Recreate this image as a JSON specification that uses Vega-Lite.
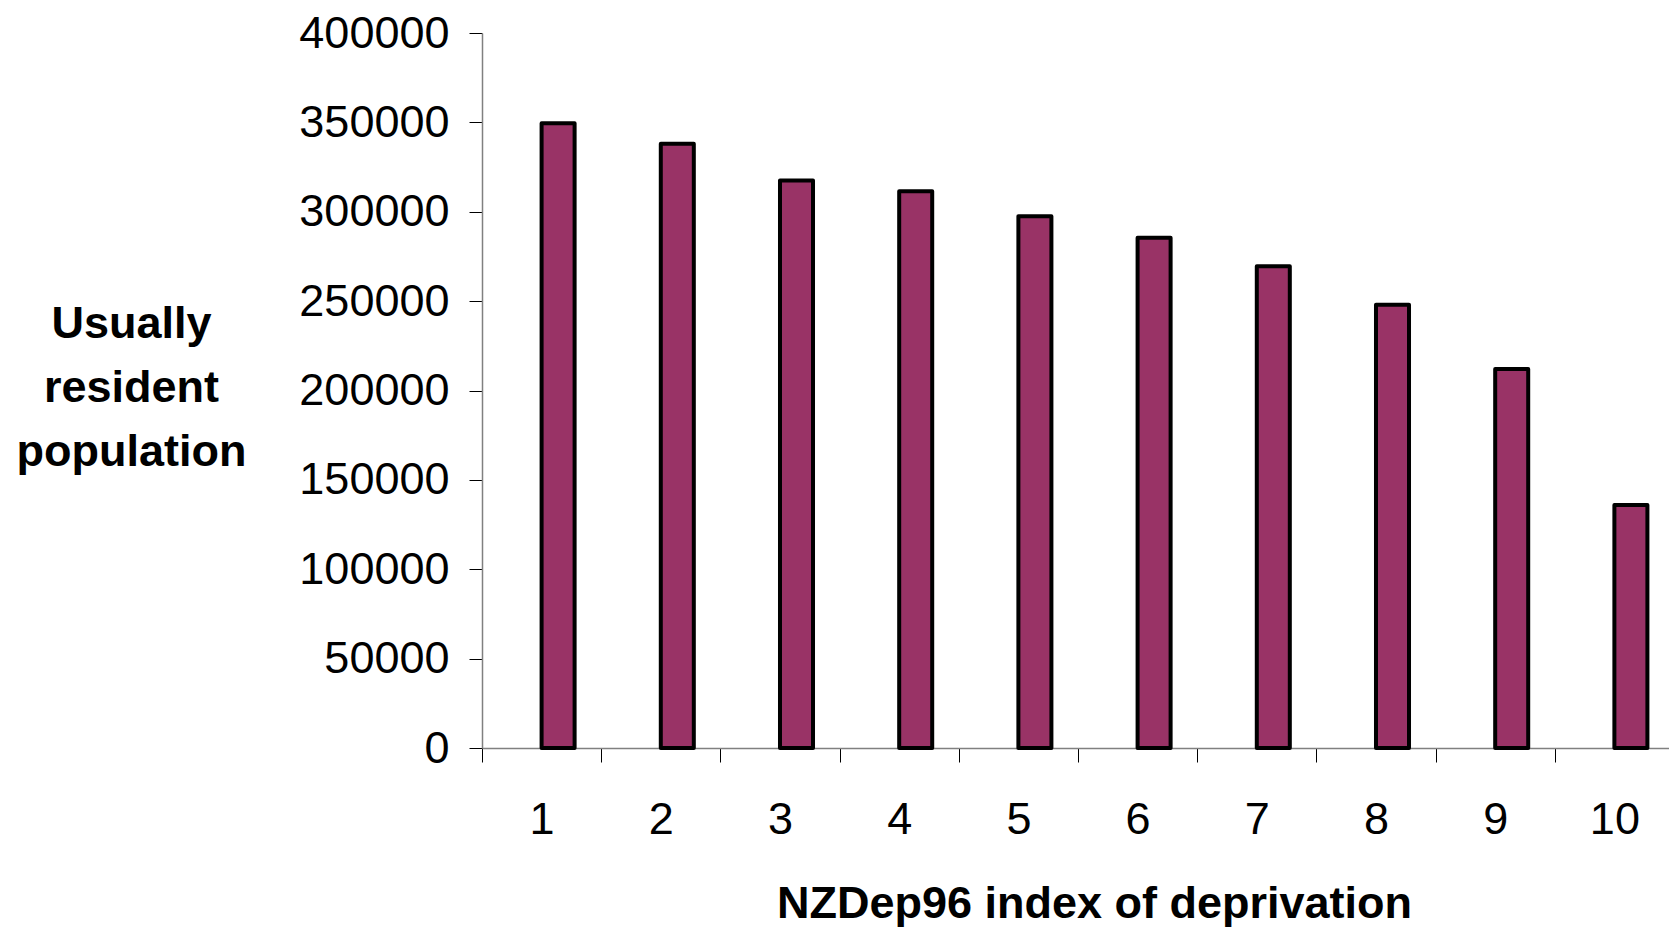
{
  "$schema": "https://vega.github.io/schema/vega-lite/v6.json",
  "autosize": {"type": "none"},
  "width": 1192,
  "height": 715,
  "padding": {"left": 482, "top": 33, "right": 0, "bottom": 181},
  "background": "#ffffff",
  "config": {
    "font": "Liberation Sans",
    "view": {"stroke": null}
  },
  "data": {
    "values": [
      {"decile": "1", "population": 349500},
      {"decile": "2", "population": 338000},
      {"decile": "3", "population": 317500},
      {"decile": "4", "population": 311500},
      {"decile": "5", "population": 297500},
      {"decile": "6", "population": 285500},
      {"decile": "7", "population": 269500},
      {"decile": "8", "population": 248000},
      {"decile": "9", "population": 212000},
      {"decile": "10", "population": 136000}
    ]
  },
  "mark": {"type": "bar", "fill": "#993366", "stroke": "#000000", "strokeWidth": 4, "strokeJoin": "round", "width": {"band": 0.277}, "xOffset": 16.5},
  "encoding": {
    "x": {
      "field": "decile",
      "type": "ordinal",
      "sort": null,
      "scale": {"paddingInner": 0, "paddingOuter": 0},
      "axis": {
        "title": "NZDep96 index of deprivation",
        "titleFontSize": 45,
        "titleFontWeight": "bold",
        "titleColor": "#000000",
        "titleBaseline": "alphabetic",
        "titleAnchor": "start",
        "titleAlign": "center",
        "titleX": 612,
        "titleY": 169,
        "labelAngle": 0,
        "labelFontSize": 45,
        "labelColor": "#000000",
        "labelPadding": 35,
        "tickBand": "extent",
        "tickSize": 14,
        "tickColor": "#000000",
        "domainColor": "#808080",
        "domainWidth": 1.5
      }
    },
    "y": {
      "field": "population",
      "type": "quantitative",
      "scale": {"domain": [0, 400000], "nice": false},
      "axis": {
        "title": ["Usually", "resident", "population"],
        "titleFontSize": 45,
        "titleFontWeight": "bold",
        "titleColor": "#000000",
        "titleAngle": 0,
        "titleAlign": "center",
        "titleBaseline": "alphabetic",
        "titleLineHeight": 64,
        "titleX": -351,
        "titleY": 304,
        "values": [0, 50000, 100000, 150000, 200000, 250000, 300000, 350000, 400000],
        "format": "d",
        "labelFontSize": 45,
        "labelColor": "#000000",
        "labelPadding": 20,
        "tickSize": 13,
        "tickColor": "#000000",
        "domainColor": "#808080",
        "domainWidth": 1.5,
        "grid": false
      }
    }
  }
}
